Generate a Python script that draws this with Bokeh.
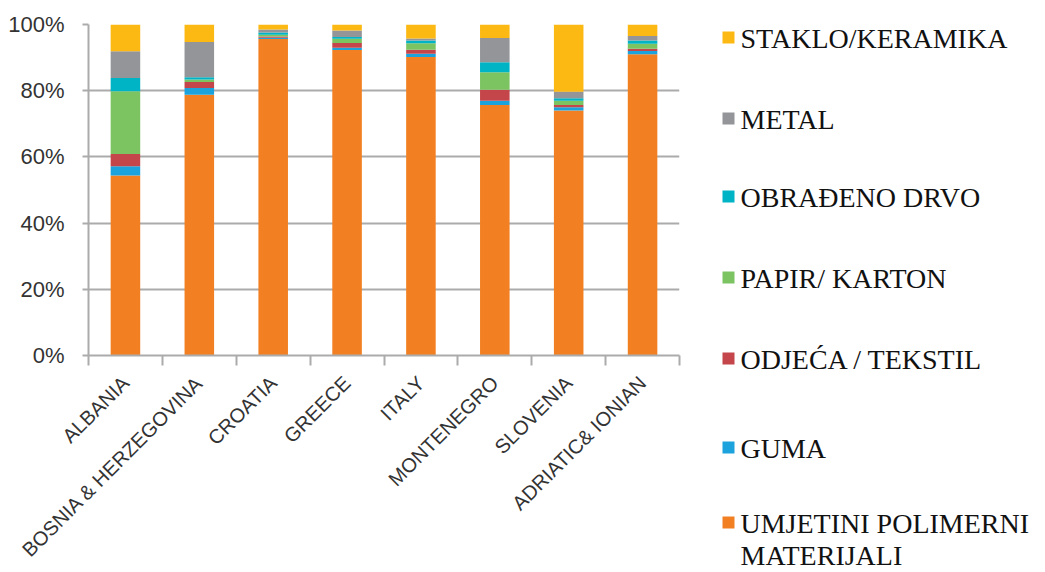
import math
from bokeh.plotting import figure
from bokeh.layouts import row
from bokeh.models import ColumnDataSource, FixedTicker, NumeralTickFormatter, Range1d
from bokeh.core.properties import value
from bokeh.embed import file_html
from bokeh.resources import INLINE

# ---- data (percent shares) ----
countries = ["ALBANIA", "BOSNIA & HERZEGOVINA", "CROATIA", "GREECE", "ITALY",
             "MONTENEGRO", "SLOVENIA", "ADRIATIC& IONIAN"]
polimeri = [54.4, 78.8, 95.6, 92.3, 90.2, 75.7, 74.0, 91.0]
guma     = [2.8, 2.0, 0.4, 0.7, 1.0, 1.3, 1.0, 1.0]
odjeca   = [3.7, 1.8, 0.4, 1.4, 1.2, 3.3, 0.7, 0.7]
papir    = [18.9, 0.8, 0.5, 1.3, 1.9, 5.3, 1.3, 1.5]
drvo     = [4.0, 0.7, 0.7, 0.5, 0.9, 3.0, 0.7, 1.0]
metal    = [8.1, 10.6, 0.9, 2.0, 0.6, 7.3, 2.0, 1.3]
staklo   = [8.1, 5.3, 1.5, 1.8, 4.2, 4.1, 20.3, 3.5]

series_keys = ["polimeri", "guma", "odjeca", "papir", "drvo", "metal", "staklo"]
series_labels = ["UMJETINI POLIMERNI\nMATERIJALI", "GUMA", "ODJEĆA / TEKSTIL",
                 "PAPIR/ KARTON", "OBRAĐENO DRVO", "METAL", "STAKLO/KERAMIKA"]
series_colors = ["#F28022", "#1CA3DE", "#C4464A", "#7CC362", "#00B4C5", "#939598", "#FDB913"]
y_ticks = [0, 0.2, 0.4, 0.6, 0.8, 1.0]

series_values = [polimeri, guma, odjeca, papir, drvo, metal, staklo]

xs = [i + 0.5 for i in range(len(countries))]
data = {"x": xs}
for k, vals in zip(series_keys, series_values):
    data[k] = [v / 100.0 for v in vals]
source = ColumnDataSource(data)

GRID = "#ABABAB"
TXT = "#333333"
H = 572

p = figure(width=700, height=H, x_range=Range1d(0, len(countries)), y_range=Range1d(0, 1),
           output_backend="svg", toolbar_location=None,
           min_border_left=88, min_border_right=21, min_border_top=24, min_border_bottom=H - 355)
p.vbar_stack(series_keys, x="x", width=0.4, color=series_colors, source=source,
             line_color=None)

p.outline_line_color = None
p.xgrid.grid_line_color = None
p.ygrid.grid_line_color = GRID
p.ygrid.grid_line_width = 2

# x axis
xa = p.xaxis[0]
xa.ticker = FixedTicker(ticks=xs, minor_ticks=list(range(len(countries) + 1)))
xa.major_label_overrides = {x: c for x, c in zip(xs, countries)}
xa.major_label_orientation = math.pi / 4
xa.major_tick_line_color = None
xa.major_tick_out = 0
xa.major_tick_in = 0
xa.minor_tick_line_color = GRID
xa.minor_tick_line_width = 2
xa.minor_tick_out = 10
xa.minor_tick_in = 0
xa.axis_line_color = GRID
xa.axis_line_width = 2
xa.major_label_text_font = "Liberation Sans"
xa.major_label_text_font_size = "20px"
xa.major_label_text_color = TXT
xa.major_label_standoff = 14

# y axis
ya = p.yaxis[0]
ya.ticker = FixedTicker(ticks=y_ticks)
ya.formatter = NumeralTickFormatter(format="0%")
ya.major_tick_out = 6
ya.major_tick_in = 0
ya.major_tick_line_color = GRID
ya.major_tick_line_width = 2
ya.minor_tick_line_color = None
ya.axis_line_color = GRID
ya.axis_line_width = 2
ya.major_label_text_font = "Liberation Sans"
ya.major_label_text_font_size = "22px"
ya.major_label_text_color = TXT
ya.major_label_standoff = 18

# ---- legend panel (top item = top of stack) ----
LW = 341
leg = figure(width=LW, height=H, x_range=Range1d(0, LW), y_range=Range1d(H, 0),
             output_backend="svg", toolbar_location=None, x_axis_type=None, y_axis_type=None,
             min_border=0)
leg.frame_align = False
leg.outline_line_color = None
leg.xgrid.grid_line_color = None
leg.ygrid.grid_line_color = None

leg_labels = list(reversed(series_labels))
leg_colors = list(reversed(series_colors))
marker_y = [37, 118, 196, 277, 358, 447, 522]
lsrc = ColumnDataSource(dict(x=[28] * len(leg_labels), tx=[40] * len(leg_labels),
                             y=marker_y, ty=[y - 15 for y in marker_y],
                             label=leg_labels, color=leg_colors))
leg.scatter(x="x", y="y", marker="square", size=12, color="color", line_color=None, source=lsrc)
leg.text(x="tx", y="ty", text="label", source=lsrc, text_font=value("Liberation Serif"),
         text_font_size="28px", text_color="#111111", text_baseline="top", text_align="left",
         text_line_height=1.05)

layout = row(p, leg)
open("out.html", "w").write(file_html(layout, INLINE))
